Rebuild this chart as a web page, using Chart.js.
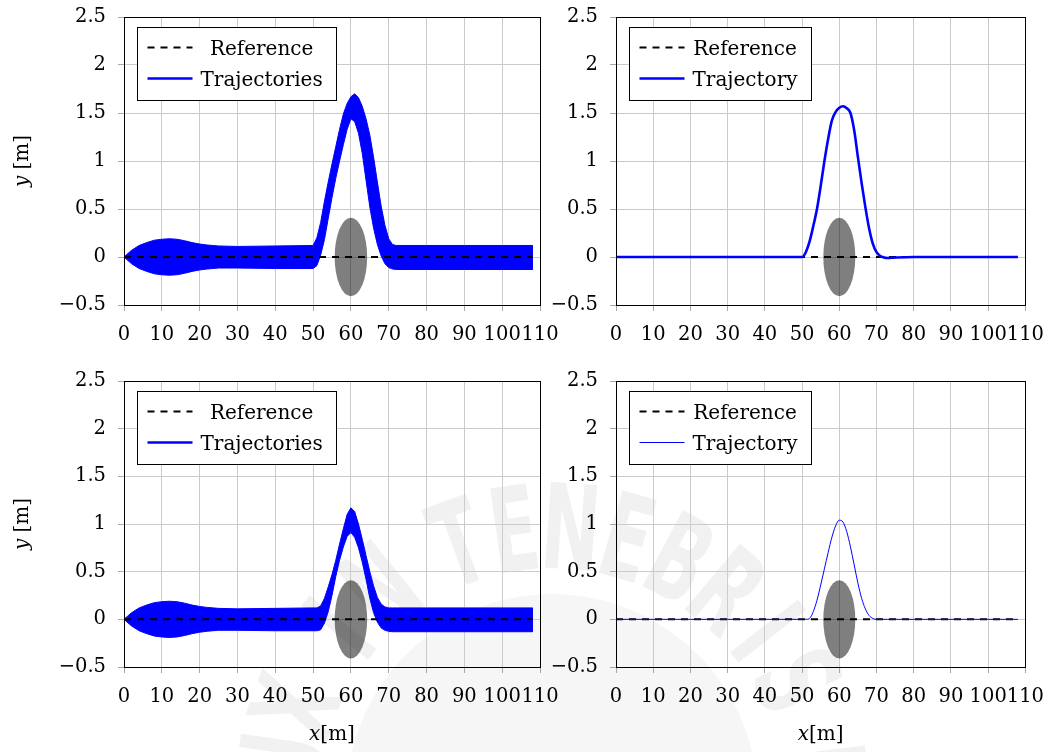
<!DOCTYPE html>
<html>
<head>
<meta charset="utf-8">
<script src="https://cdn.jsdelivr.net/npm/chart.js@4.4.1/dist/chart.umd.min.js"></script>
<style>
  body { margin: 0; background: #fff; }
  #wrap { position: relative; width: 1056px; height: 752px; overflow: hidden; }
  #wrap canvas { position: absolute; }
</style>
</head>
<body>
<div id="wrap">
  <canvas id="seal" width="1056" height="752" style="left:0;top:0"></canvas>
  <canvas id="topLeft" width="580" height="340" style="left:0;top:0"></canvas>
  <canvas id="topRight" width="516" height="340" style="left:540px;top:0"></canvas>
  <canvas id="bottomLeft" width="580" height="392" style="left:0;top:360px"></canvas>
  <canvas id="bottomRight" width="516" height="392" style="left:540px;top:360px"></canvas>
</div>
<script>
const SERIF = '"DejaVu Serif", serif';

const xTicks = [0, 10, 20, 30, 40, 50, 60, 70, 80, 90, 100, 110];
const yTicks = [-0.5, 0, 0.5, 1, 1.5, 2, 2.5];

// reference path along y = 0
const referenceX = [0, 108];
const referenceY = [0, 0];

// obstacle: centre and semi-axes in data units
const obstacleCenter = [60, 0];
const obstacleRadii = [4.3, 0.41];

// envelope of the trajectory bundle (left panels)
const bandX = [0, 2, 4, 6, 8, 10, 12, 14, 16, 18, 20, 22, 25, 30, 40,
  50, 51, 52, 53, 54, 55, 56, 57, 58, 59, 60, 61, 62, 63, 64, 65, 66, 67, 68, 69, 70, 71, 72,
  80, 90, 100, 108];
const bandTopUpper = [0, 0.07, 0.12, 0.15, 0.175, 0.185, 0.19, 0.185, 0.17, 0.15, 0.135, 0.125, 0.115, 0.11, 0.115,
  0.12, 0.2, 0.36, 0.58, 0.78, 0.97, 1.15, 1.33, 1.49, 1.6, 1.67, 1.7, 1.66, 1.57, 1.44, 1.27, 1.04, 0.78, 0.53, 0.33, 0.19, 0.13, 0.12,
  0.12, 0.12, 0.12, 0.12];
const bandTopLower = [0, -0.07, -0.12, -0.15, -0.175, -0.185, -0.19, -0.185, -0.17, -0.15, -0.135, -0.125, -0.115, -0.115, -0.12,
  -0.12, -0.09, 0.02, 0.18, 0.4, 0.62, 0.82, 1.0, 1.17, 1.33, 1.44, 1.41, 1.29, 1.08, 0.8, 0.52, 0.3, 0.13, 0.01, -0.07, -0.11, -0.125, -0.13,
  -0.13, -0.13, -0.13, -0.13];
const bandBottomUpper = [0, 0.07, 0.12, 0.15, 0.175, 0.185, 0.19, 0.185, 0.17, 0.15, 0.135, 0.125, 0.115, 0.11, 0.115,
  0.12, 0.12, 0.14, 0.22, 0.34, 0.47, 0.62, 0.79, 0.95, 1.1, 1.17, 1.13, 1.0, 0.84, 0.67, 0.5, 0.35, 0.23, 0.16, 0.13, 0.12, 0.12, 0.12,
  0.12, 0.12, 0.12, 0.12];
const bandBottomLower = [0, -0.07, -0.12, -0.15, -0.175, -0.185, -0.19, -0.185, -0.17, -0.15, -0.135, -0.125, -0.115, -0.115, -0.12,
  -0.12, -0.12, -0.11, -0.04, 0.08, 0.25, 0.45, 0.62, 0.76, 0.87, 0.91, 0.86, 0.75, 0.6, 0.42, 0.22, 0.07, -0.03, -0.09, -0.115, -0.125, -0.13, -0.13,
  -0.13, -0.13, -0.13, -0.13];

// single trajectories (right panels)
const trajX = [0, 10, 20, 30, 40,
  50, 51, 52, 53, 54, 55, 56, 57, 58, 59, 60, 61, 62, 63, 64, 65, 66, 67, 68, 69, 70, 71, 72, 73, 74,
  80, 90, 100, 108];
const trajTopY = [0, 0, 0, 0, 0,
  0, 0.05, 0.16, 0.32, 0.5, 0.74, 1.0, 1.23, 1.42, 1.51, 1.555, 1.57, 1.55, 1.5, 1.32, 1.04, 0.77, 0.52, 0.3, 0.14, 0.05, 0.01, -0.005, -0.01, -0.008,
  0, 0, 0, 0];
const trajBottomY = [0, 0, 0, 0, 0,
  0, 0, 0.01, 0.08, 0.2, 0.36, 0.53, 0.7, 0.86, 0.98, 1.04, 1.02, 0.92, 0.76, 0.57, 0.38, 0.22, 0.11, 0.04, 0.01, 0, 0, 0, 0, 0,
  0, 0, 0, 0];

const sealText = "LUX IN TENEBRIS LUCET";

const pts = (xs, ys) => xs.map((x, i) => ({ x, y: ys[i] }));
// closed outline: upper edge left to right, lower edge back
const bandShape = (xs, up, lo) => pts(xs, up).concat(pts(xs, lo).reverse());
const crisp = (v) => Math.round(v - 0.5) + 0.5;
const fmt = (v) => (v < 0 ? "\u2212" + Math.abs(v) : String(v));

// faint university seal behind the lower panels
(function drawSeal() {
  const ctx = document.getElementById("seal").getContext("2d");
  const cx = 552, cy = 800, r = 262;
  ctx.fillStyle = "rgba(0,0,0,0.035)";
  ctx.beginPath();
  ctx.arc(cx, cy, 206, 0, Math.PI * 2);
  ctx.fill();
  ctx.fillStyle = "rgba(0,0,0,0.055)";
  ctx.font = 'bold 118px "DejaVu Sans", sans-serif';
  ctx.textAlign = "center";
  ctx.textBaseline = "middle";
  const deg = Math.PI / 180;
  let a = 176 * deg;
  for (const ch of sealText) {
    ctx.save();
    ctx.translate(cx + r * Math.cos(a), cy + r * Math.sin(a));
    ctx.rotate(a + Math.PI / 2);
    ctx.scale(0.6, 1);
    ctx.fillText(ch, 0, 0);
    ctx.restore();
    a += (ch === " " ? 7 : 12) * deg;
  }
})();

const obstacle = {
  id: "obstacle",
  beforeDatasetsDraw(chart) {
    const { ctx, scales } = chart;
    const cx = scales.x.getPixelForValue(obstacleCenter[0]);
    const cy = scales.y.getPixelForValue(obstacleCenter[1]);
    const rx = scales.x.getPixelForValue(obstacleCenter[0] + obstacleRadii[0]) - cx;
    const ry = cy - scales.y.getPixelForValue(obstacleCenter[1] + obstacleRadii[1]);
    ctx.save();
    ctx.fillStyle = "rgba(0,0,0,0.5)";
    ctx.beginPath();
    ctx.ellipse(cx, cy, rx, ry, 0, 0, Math.PI * 2);
    ctx.fill();
    ctx.restore();
  },
};

const frame = {
  id: "frame",
  afterDraw(chart) {
    const { ctx, chartArea: a } = chart;
    const l = crisp(a.left), r = crisp(a.right), t = crisp(a.top), b = crisp(a.bottom);
    ctx.save();
    ctx.strokeStyle = "#000";
    ctx.lineWidth = 1;
    ctx.strokeRect(l, t, r - l, b - t);
    ctx.restore();
  },
};

const legendBox = {
  id: "legendBox",
  afterDraw(chart, args, opts) {
    const { ctx, chartArea: a } = chart;
    const items = opts.items.map((lbl) => chart.data.datasets.find((d) => d.label === lbl));
    ctx.save();
    ctx.font = "20px " + SERIF;
    const textW = Math.max(...items.map((d) => ctx.measureText(d.label).width));
    const x0 = crisp(a.left + 13), y0 = crisp(a.top + 10);
    const w = Math.round(63 + textW + 14), h = 73;
    ctx.fillStyle = "#fff";
    ctx.fillRect(x0, y0, w, h);
    ctx.strokeStyle = "#000";
    ctx.lineWidth = 1;
    ctx.strokeRect(x0, y0, w, h);
    items.forEach((d, i) => {
      const cy = y0 + 20 + i * 31;
      ctx.beginPath();
      ctx.setLineDash(d.borderDash || []);
      ctx.lineWidth = d.legendWidth || d.borderWidth;
      ctx.strokeStyle = d.borderColor;
      ctx.moveTo(x0 + 10, cy);
      ctx.lineTo(x0 + 55, cy);
      ctx.stroke();
      ctx.setLineDash([]);
      ctx.fillStyle = "#000";
      ctx.textAlign = "center";
      ctx.textBaseline = "alphabetic";
      ctx.fillText(d.label, x0 + 63 + textW / 2, cy + 7);
    });
    ctx.restore();
  },
};

// italic variable followed by an upright unit
function mixedLabel(ctx, parts, cx, cy) {
  const fonts = parts.map((p) => (p[0] ? "italic " : "") + "20px " + SERIF);
  const widths = parts.map((p, i) => { ctx.font = fonts[i]; return ctx.measureText(p[1]).width; });
  let x = cx - widths.reduce((s, v) => s + v, 0) / 2;
  ctx.textAlign = "left";
  ctx.textBaseline = "middle";
  ctx.fillStyle = "#000";
  parts.forEach((p, i) => { ctx.font = fonts[i]; ctx.fillText(p[1], x, cy); x += widths[i]; });
}

const axisTitles = {
  id: "axisTitles",
  afterDraw(chart, args, opts) {
    const { ctx, chartArea: a } = chart;
    ctx.save();
    if (opts.y) {
      ctx.save();
      ctx.translate(opts.yAt, (a.top + a.bottom) / 2);
      ctx.rotate(-Math.PI / 2);
      mixedLabel(ctx, [[true, "y"], [false, " [m]"]], 0, 0);
      ctx.restore();
    }
    if (opts.x) {
      mixedLabel(ctx, [[true, "x"], [false, "[m]"]], (a.left + a.right) / 2, a.bottom + 68);
    }
    ctx.restore();
  },
};

function panel(id, { datasets, legend, yWidth, xHeight, padding, yTitle, xTitle }) {
  const tickFont = { family: SERIF, size: 19.5 };
  return new Chart(document.getElementById(id), {
    type: "line",
    data: { datasets },
    plugins: [obstacle, frame, legendBox, axisTitles],
    options: {
      responsive: false,
      animation: false,
      parsing: false,
      layout: { padding },
      elements: { point: { radius: 0 } },
      plugins: {
        legend: { display: false },
        tooltip: { enabled: false },
        legendBox: { items: legend },
        axisTitles: { y: yTitle, yAt: 23, x: xTitle },
      },
      scales: {
        x: {
          type: "linear",
          min: 0,
          max: 110,
          afterBuildTicks: (s) => { s.ticks = xTicks.map((v) => ({ value: v })); },
          afterFit: (s) => { s.height = xHeight; },
          ticks: { autoSkip: false, maxRotation: 0, color: "#000", font: tickFont, padding: 12, callback: fmt },
          grid: { color: "#cbcbcb", tickColor: "#a8a8a8", tickLength: 6 },
          border: { display: false },
        },
        y: {
          type: "linear",
          min: -0.5,
          max: 2.5,
          afterBuildTicks: (s) => { s.ticks = yTicks.map((v) => ({ value: v })); },
          afterFit: (s) => { s.width = yWidth; s.paddingTop = 0; s.paddingBottom = 0; },
          ticks: { color: "#000", font: tickFont, padding: 12, callback: fmt },
          grid: { color: "#cbcbcb", tickColor: "#a8a8a8", tickLength: 6 },
          border: { display: false },
        },
      },
    },
  });
}

const referenceLine = (order) => ({
  label: "Reference",
  data: pts(referenceX, referenceY),
  borderColor: "#000",
  borderWidth: 2,
  borderDash: [7, 6],
  fill: false,
  order,
});

const bundle = (up, lo) => ({
  label: "Trajectories",
  data: bandShape(bandX, up, lo),
  borderColor: "#0000ff",
  backgroundColor: "#0000ff",
  borderWidth: 1,
  legendWidth: 2.5,
  fill: "shape",
  tension: 0,
  order: 2,
});

const single = (ys, width) => ({
  label: "Trajectory",
  data: pts(trajX, ys),
  borderColor: "#0000ff",
  borderWidth: width,
  fill: false,
  cubicInterpolationMode: "monotone",
  order: 1,
});

panel("topLeft", {
  datasets: [referenceLine(1), bundle(bandTopUpper, bandTopLower)],
  legend: ["Reference", "Trajectories"],
  yWidth: 124, xHeight: 35,
  padding: { top: 17, right: 40, left: 0, bottom: 0 },
  yTitle: true, xTitle: false,
});

panel("topRight", {
  datasets: [single(trajTopY, 2.6), referenceLine(2)],
  legend: ["Reference", "Trajectory"],
  yWidth: 76, xHeight: 35,
  padding: { top: 17, right: 24, left: 0, bottom: 0 },
  yTitle: false, xTitle: false,
});

panel("bottomLeft", {
  datasets: [referenceLine(1), bundle(bandBottomUpper, bandBottomLower)],
  legend: ["Reference", "Trajectories"],
  yWidth: 124, xHeight: 85,
  padding: { top: 21, right: 40, left: 0, bottom: 0 },
  yTitle: true, xTitle: true,
});

panel("bottomRight", {
  datasets: [single(trajBottomY, 1), referenceLine(2)],
  legend: ["Reference", "Trajectory"],
  yWidth: 76, xHeight: 85,
  padding: { top: 21, right: 24, left: 0, bottom: 0 },
  yTitle: false, xTitle: true,
});
</script>
</body>
</html>
